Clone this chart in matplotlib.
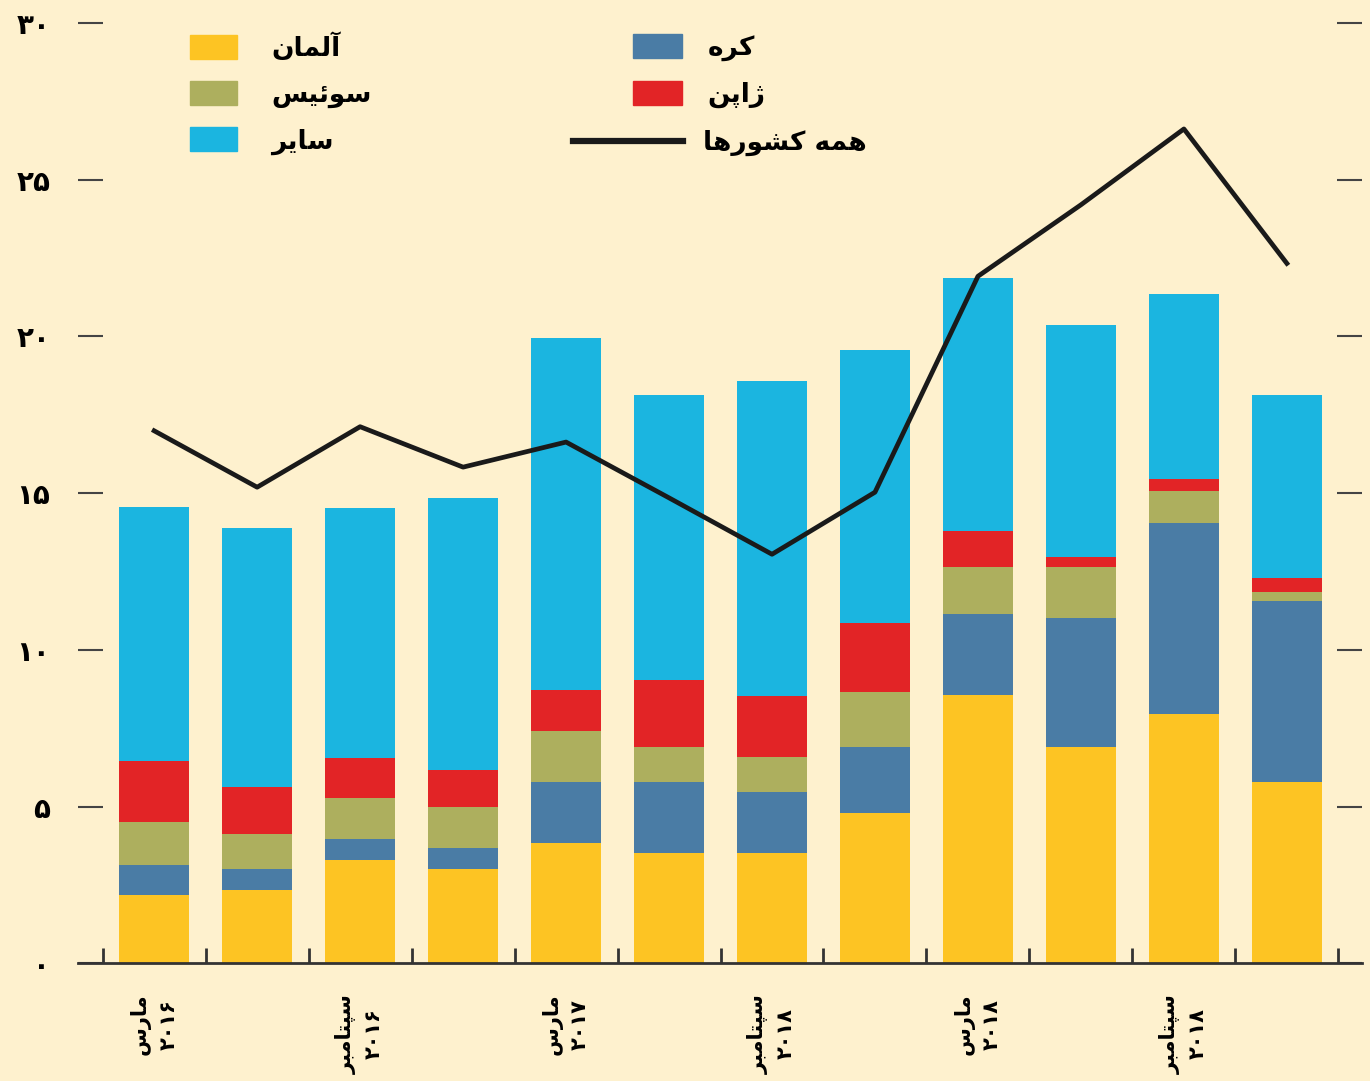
import re
import numpy as np
import matplotlib
matplotlib.use('Agg')
import matplotlib.pyplot as plt
from matplotlib.patches import Patch
from matplotlib.lines import Line2D

plt.rcParams['font.family'] = ['DejaVu Sans']
plt.rcParams['font.weight'] = 'bold'

# داده ها (مقادیر خوانده شده از نمودار)
germany = [2.18, 2.34, 3.30, 3.01, 3.83, 3.53, 3.53, 4.80, 8.55, 6.90, 7.95, 5.77]
korea = [0.96, 0.67, 0.68, 0.67, 1.96, 2.26, 1.93, 2.09, 2.60, 4.12, 6.10, 5.78]
swiss = [1.37, 1.12, 1.30, 1.31, 1.63, 1.10, 1.12, 1.78, 1.49, 1.63, 1.03, 0.30]
japan = [1.94, 1.49, 1.28, 1.19, 1.29, 2.16, 1.94, 2.18, 1.14, 0.31, 0.36, 0.45]
other = [8.10, 8.26, 7.97, 8.66, 11.23, 9.08, 10.05, 8.72, 8.08, 7.42, 5.91, 5.82]
all_countries = [16.99, 15.19, 17.12, 15.83, 16.63, 14.85, 13.05, 15.03, 21.92, 24.20, 26.62, 22.33]

series_names = ['آلمان', 'کره', 'سوئیس', 'ژاپن', 'سایر']
line_name = 'همه کشورها'
x_label_pos = [0, 2, 4, 6, 8, 10]
x_labels = ['مارس\n۲۰۱۶', 'سپتامبر\n۲۰۱۶', 'مارس\n۲۰۱۷',
            'سپتامبر\n۲۰۱۸', 'مارس\n۲۰۱۸', 'سپتامبر\n۲۰۱۸']
y_ticks = [0, 5, 10, 15, 20, 25, 30]
y_labels = ['۰', '۵', '۱۰', '۱۵', '۲۰', '۲۵', '۳۰']

colors = ['#FDC423', '#4A7CA5', '#ADAF5E', '#E22426', '#1BB5E0']
bg = '#FEF1CE'

# matplotlib متن فارسی را شکل نمی دهد، پس اشکال حروف را دستی انتخاب می کنیم
FORMS = {
    'ا': ('\uFE8D', '\uFE8E', None, None),
    'آ': ('\uFE81', '\uFE82', None, None),
    'ب': ('\uFE8F', '\uFE90', '\uFE91', '\uFE92'),
    'پ': ('\uFB56', '\uFB57', '\uFB58', '\uFB59'),
    'ت': ('\uFE95', '\uFE96', '\uFE97', '\uFE98'),
    'ر': ('\uFEAD', '\uFEAE', None, None),
    'ژ': ('\uFB8A', '\uFB8B', None, None),
    'س': ('\uFEB1', '\uFEB2', '\uFEB3', '\uFEB4'),
    'ش': ('\uFEB5', '\uFEB6', '\uFEB7', '\uFEB8'),
    'ک': ('\uFB8E', '\uFB8F', '\uFB90', '\uFB91'),
    'ل': ('\uFEDD', '\uFEDE', '\uFEDF', '\uFEE0'),
    'م': ('\uFEE1', '\uFEE2', '\uFEE3', '\uFEE4'),
    'ن': ('\uFEE5', '\uFEE6', '\uFEE7', '\uFEE8'),
    'ه': ('\uFEE9', '\uFEEA', '\uFEEB', '\uFEEC'),
    'و': ('\uFEED', '\uFEEE', None, None),
    'ی': ('\uFBFC', '\uFBFD', '\uFBFE', '\uFBFF'),
    'ئ': ('\uFE89', '\uFE8A', '\uFE8B', '\uFE8C'),
}


def fa(text):
    lines = []
    for line in text.split('\n'):
        out = []
        for i, ch in enumerate(line):
            if ch not in FORMS:
                out.append(ch)
                continue
            iso, fin, ini, med = FORMS[ch]
            prev = line[i - 1] if i > 0 else ''
            nxt = line[i + 1] if i + 1 < len(line) else ''
            join_prev = prev in FORMS and FORMS[prev][2] is not None
            join_next = ini is not None and nxt in FORMS
            if join_prev and join_next:
                out.append(med)
            elif join_prev:
                out.append(fin)
            elif join_next:
                out.append(ini)
            else:
                out.append(iso)
        tokens = re.findall(r'[۰-۹0-9]+|.', ''.join(out))
        lines.append(''.join(reversed(tokens)))
    return '\n'.join(lines)


fig = plt.figure(figsize=(13.7, 10.81), dpi=100, facecolor=bg)
ax = fig.add_axes([0.0569, 0.1089, 0.9373, 0.8698])
ax.set_facecolor(bg)

x = np.arange(len(germany))
bottom = np.zeros(len(x))
for vals, c in zip([germany, korea, swiss, japan, other], colors):
    ax.bar(x, vals, width=0.68, bottom=bottom, color=c, zorder=2)
    bottom += np.array(vals)

ax.plot(x, all_countries, color='#1a1a1a', lw=3.4, zorder=3)

ax.set_xlim(-0.74, 11.73)
ax.set_ylim(0, 30)

for s in ['left', 'right', 'top']:
    ax.spines[s].set_visible(False)
ax.spines['bottom'].set_color('#333333')
ax.spines['bottom'].set_linewidth(2.0)

ax.set_yticks(y_ticks, y_labels, fontsize=20)
ax.tick_params(axis='y', direction='in', length=18, width=1.5, color='#444444',
               right=True, labelright=False, pad=20)

ax.set_xticks(x_label_pos, [fa(t) for t in x_labels], rotation=90, fontsize=15)
for t in ax.get_xticklabels():
    t.set_multialignment('center')
    t.set_linespacing(1.45)
ax.tick_params(axis='x', which='major', length=0, pad=22)
ax.set_xticks(np.arange(-0.5, 12, 1), minor=True)
ax.tick_params(axis='x', which='minor', direction='in', length=11, width=2, color='#333333')

fs = 19
leg1 = ax.legend(handles=[Patch(color=colors[0], label=fa(series_names[0])),
                          Patch(color=colors[2], label=fa(series_names[2])),
                          Patch(color=colors[4], label=fa(series_names[4]))],
                 loc='upper left', bbox_to_anchor=(0.0872, 0.989), frameon=False,
                 fontsize=fs, handlelength=1.78, handleheight=1.02, handletextpad=1.3,
                 labelspacing=0.72, borderpad=0, borderaxespad=0)
ax.add_artist(leg1)
leg2 = ax.legend(handles=[Patch(color=colors[1], label=fa(series_names[1])),
                          Patch(color=colors[3], label=fa(series_names[3]))],
                 loc='upper left', bbox_to_anchor=(0.432, 0.988), frameon=False,
                 fontsize=fs, handlelength=1.88, handleheight=1.02, handletextpad=0.95,
                 labelspacing=0.72, borderpad=0, borderaxespad=0)
ax.add_artist(leg2)
ax.legend(handles=[Line2D([], [], color='#1a1a1a', lw=4.5, label=fa(line_name))],
          loc='center left', bbox_to_anchor=(0.3855, 0.872), frameon=False,
          fontsize=fs, handlelength=4.17, handletextpad=0.76,
          borderpad=0, borderaxespad=0)

fig.savefig('out.png', dpi=100, facecolor=bg)
